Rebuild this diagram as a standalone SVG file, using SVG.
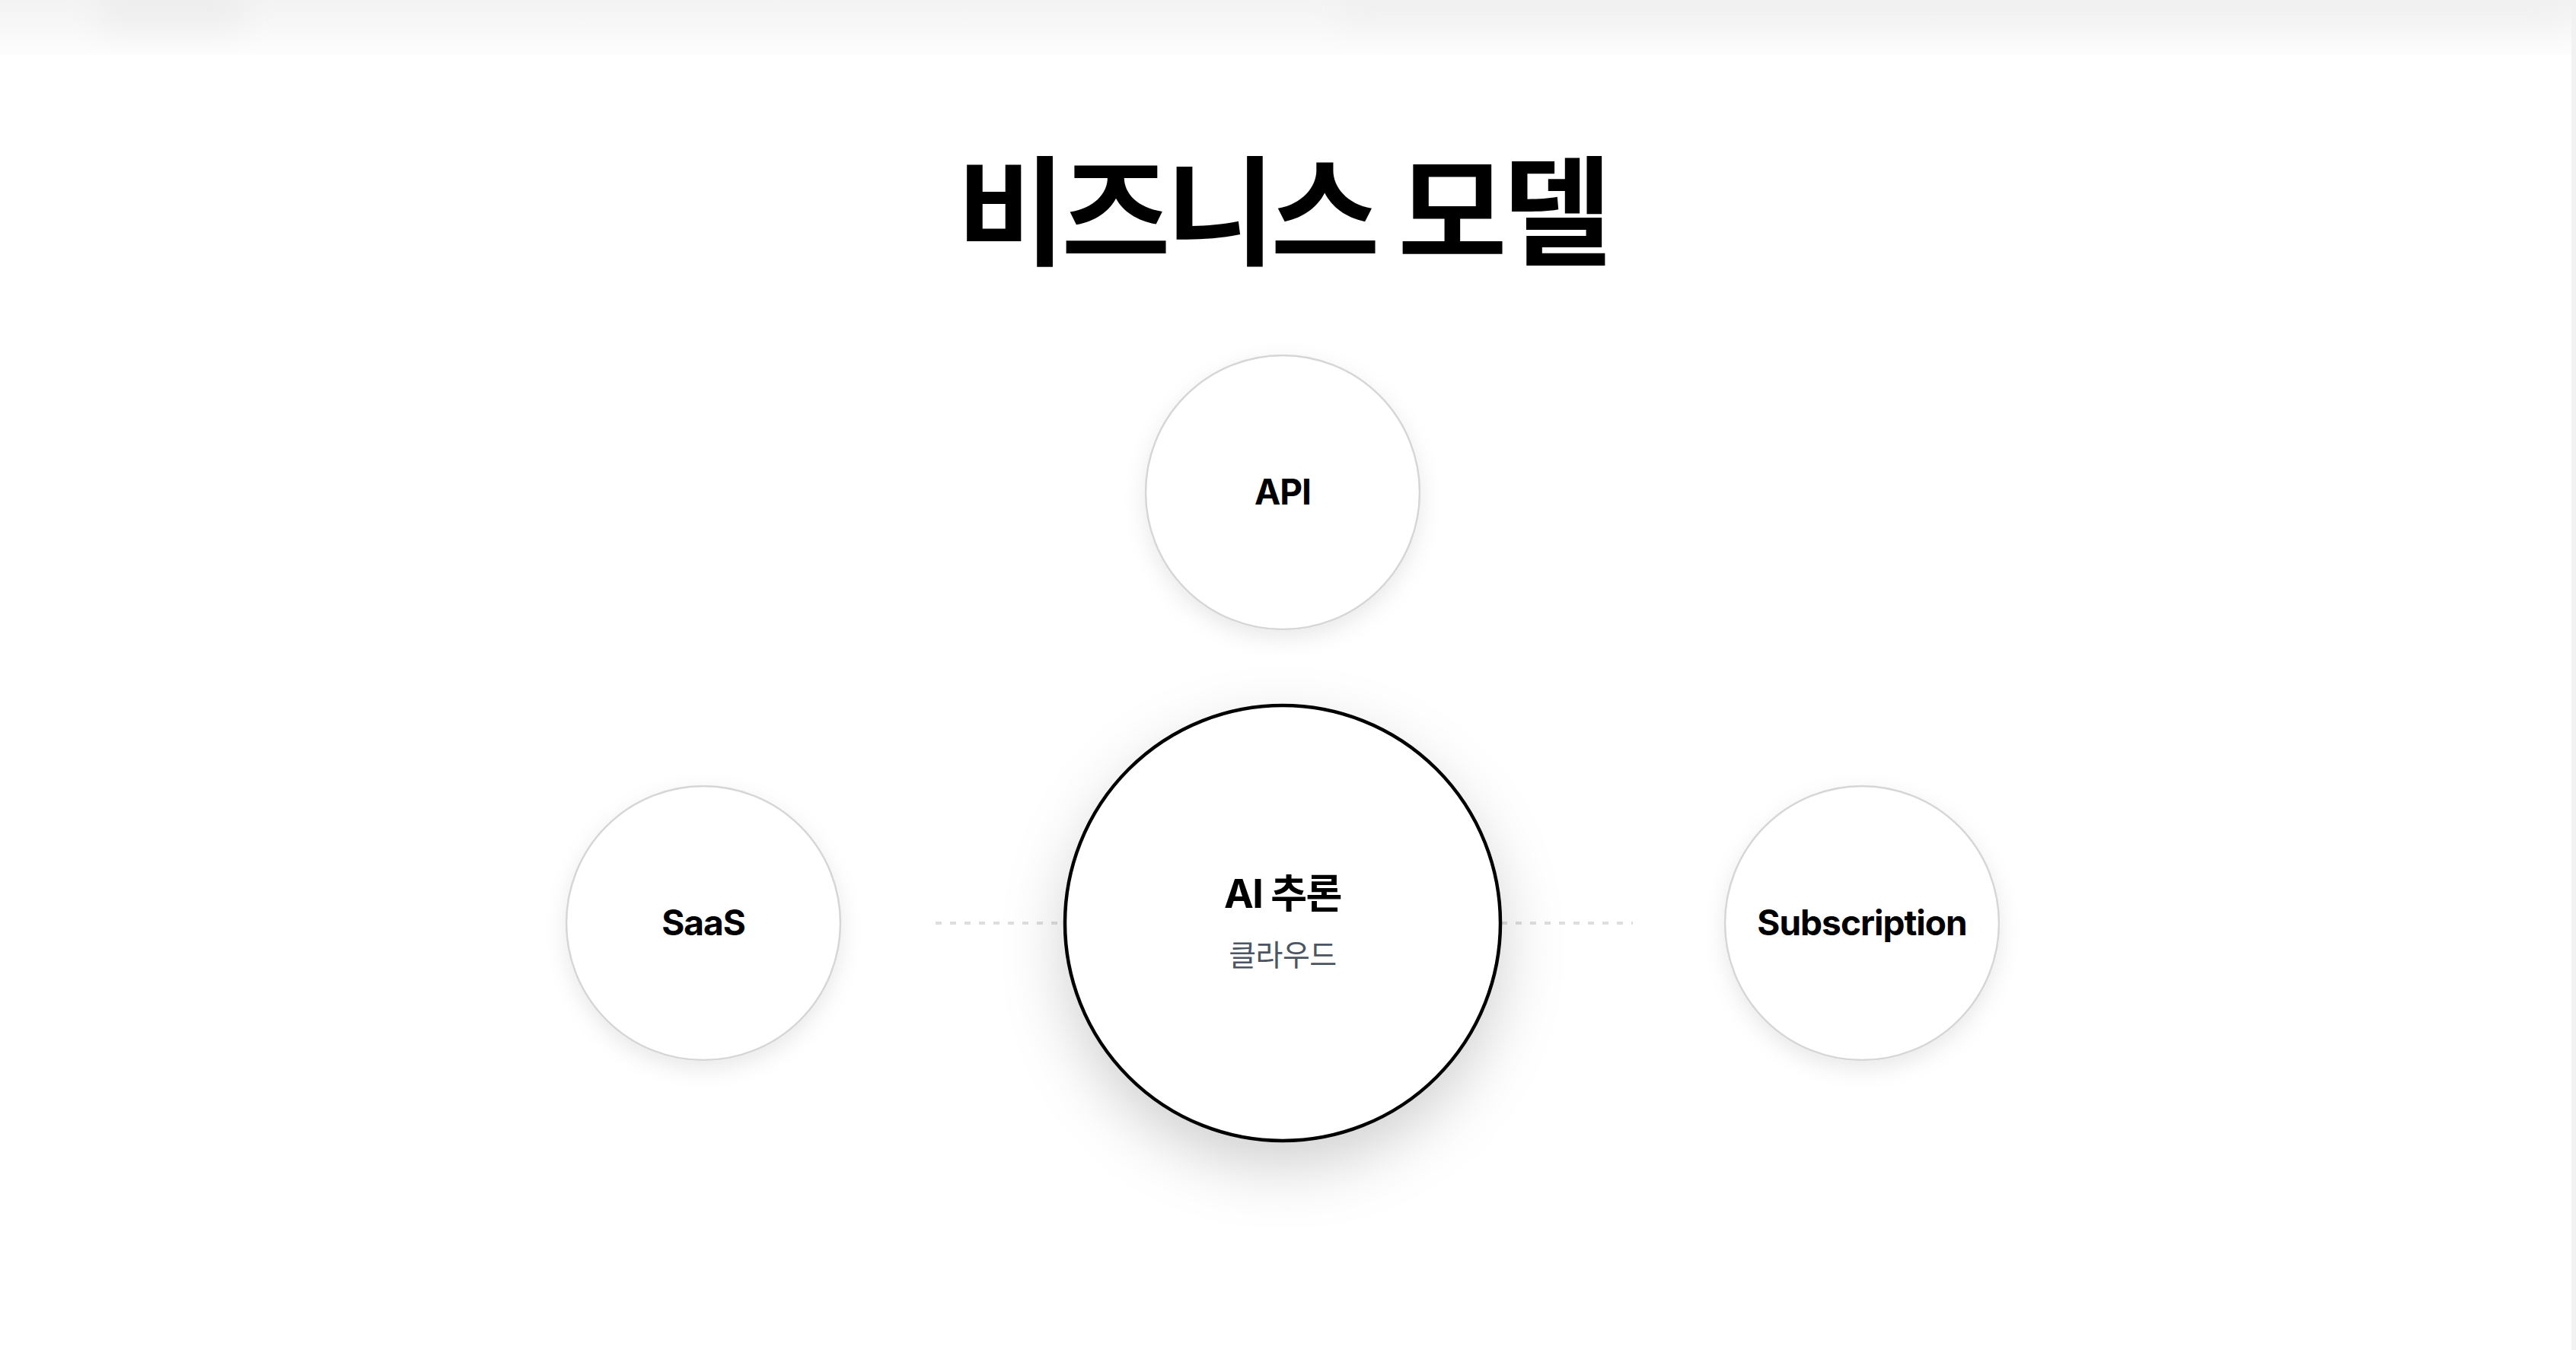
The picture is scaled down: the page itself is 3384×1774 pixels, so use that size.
<svg xmlns="http://www.w3.org/2000/svg" width="3384" height="1774" viewBox="0 0 3384 1774">
<style>
.title{font-family:"Noto Sans CJK KR","Noto Sans",sans-serif;font-weight:700;font-size:156px;fill:#000;letter-spacing:-6px}
.lbl{font-family:Inter,"Noto Sans CJK KR",sans-serif;font-weight:700;font-size:46px;fill:#000;letter-spacing:-1px}
.main{font-family:Inter,"Noto Sans CJK KR",sans-serif;font-weight:700;font-size:52px;fill:#000;letter-spacing:-1.5px}
.sub{font-family:"Noto Sans CJK KR",sans-serif;font-weight:400;font-size:39px;fill:#4b5563;letter-spacing:-0.5px}
.small{fill:#fff;stroke:#d6d6d6;stroke-width:2.5}
.center{fill:#fff;stroke:#000;stroke-width:4.5}
.conn{stroke:#dedede;stroke-width:4;stroke-dasharray:8 11;fill:none}
</style>
<defs>
<linearGradient id="topband" x1="0" y1="0" x2="0" y2="1">
<stop offset="0" stop-color="#f3f3f3"/>
<stop offset="1" stop-color="#fdfdfd"/>
</linearGradient>
<filter id="blur" x="-20%" y="-80%" width="140%" height="260%"><feGaussianBlur stdDeviation="20"/></filter>
<filter id="shSmall" x="-30%" y="-30%" width="160%" height="170%">
<feDropShadow dx="0" dy="10" stdDeviation="14" flood-color="#000" flood-opacity="0.09"/>
</filter>
<filter id="shCenter" x="-40%" y="-40%" width="180%" height="190%">
<feDropShadow dx="0" dy="32" stdDeviation="40" flood-color="#000" flood-opacity="0.18"/>
</filter>
</defs>
<rect width="3384" height="1774" fill="#fff"/>
<g id="topbar">
<rect x="0" y="0" width="3384" height="72" fill="url(#topband)"/>
<g filter="url(#blur)" opacity="0.45">
<rect x="130" y="-10" width="190" height="50" fill="#e4e4e4"/>
<rect x="1760" y="-10" width="1610" height="45" fill="#eaeaea"/>
</g>
<rect x="3378" y="0" width="6" height="1774" fill="#f2f2f2"/>
</g>
<g id="title">
<text class="title" x="1684" y="336" text-anchor="middle">비즈니스 모델</text>
</g>
<g id="connectors">
<line class="conn" x1="1229" y1="1213" x2="1398" y2="1213"/>
<line class="conn" x1="1972" y1="1213" x2="2145" y2="1213"/>
</g>
<g id="node-api">
<circle class="small" cx="1685" cy="647" r="180" filter="url(#shSmall)"/>
<text class="lbl" x="1685" y="663" text-anchor="middle">API</text>
</g>
<g id="node-saas">
<circle class="small" cx="924" cy="1213" r="180" filter="url(#shSmall)"/>
<text class="lbl" x="924" y="1229" text-anchor="middle">SaaS</text>
</g>
<g id="node-subscription">
<circle class="small" cx="2446" cy="1213" r="180" filter="url(#shSmall)"/>
<text class="lbl" x="2446" y="1229" text-anchor="middle">Subscription</text>
</g>
<g id="node-center">
<circle class="center" cx="1685" cy="1213" r="286" filter="url(#shCenter)"/>
<text class="main" x="1685" y="1193" text-anchor="middle">AI 추론</text>
<text class="sub" x="1685" y="1269" text-anchor="middle">클라우드</text>
</g>
</svg>
